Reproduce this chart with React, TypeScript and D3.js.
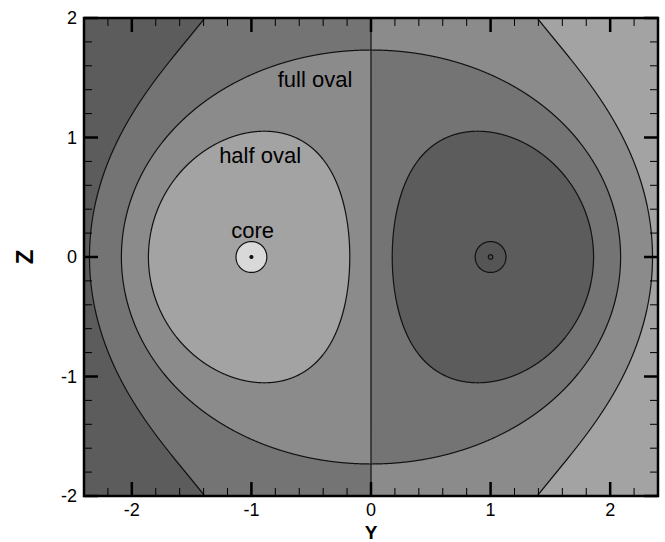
import React, { useMemo } from "react";
import * as d3 from "d3";

// Vortex pair in a uniform stream (Kelvin oval), plotted in the Y–Z plane.
const vortexY = [-1, 1];
const vortexZ = [0, 0];
const vortexSign = [1, -1];
const streamSpeed = 0.5;

// Contour levels of the stream function and the grey of each band between them
const levels = [-4.15, -2.24, -0.27, 0, 0.27, 2.24, 4.6];
const bandColors = [
  "#4e4e4e",
  "#555555",
  "#5c5c5c",
  "#747474",
  "#8b8b8b",
  "#a3a3a3",
  "#d9d9d9",
  "#111111",
];

const yTicks = [-2, -1, 0, 1, 2];
const zTicks = [-2, -1, 0, 1, 2];
const minorStep = 0.2;

const labelText = ["full oval", "half oval", "core"];
const labelY = [-0.78, -1.27, -0.99];
const labelZ = [1.42, 0.785, 0.16];
const labelAnchor = ["start", "start", "middle"];

const W = 665;
const H = 542;
const left = 84;
const right = 658;
const top = 18;
const bottom = 496;

function psi(y: number, z: number): number {
  let v = streamSpeed * y;
  for (let k = 0; k < vortexY.length; k++) {
    const dy = y - vortexY[k];
    const dz = z - vortexZ[k];
    const r2 = Math.max(dy * dy + dz * dz, 1e-12);
    // the left vortex raises the value near it, the right one lowers it
    v += -vortexSign[k] * 0.5 * Math.log(r2);
  }
  return v;
}

export default function App() {
  const x = d3.scaleLinear().domain([-2.4, 2.4]).range([left, right]);
  const y = d3.scaleLinear().domain([-2, 2]).range([bottom, top]);

  const paths = useMemo(() => {
    const step = 0.5;
    const x0 = left - 4;
    const y0 = top - 4;
    const nx = Math.ceil((right - left + 8) / step);
    const ny = Math.ceil((bottom - top + 8) / step);
    const values = new Float64Array(nx * ny);
    for (let j = 0; j < ny; j++) {
      const zz = y.invert(y0 + (j + 0.5) * step);
      for (let i = 0; i < nx; i++) {
        const yy = x.invert(x0 + (i + 0.5) * step);
        values[j * nx + i] = psi(yy, zz);
      }
    }
    const gen = d3.contours().size([nx, ny]).thresholds(levels);
    const polys = gen(values as unknown as number[]);
    const proj = d3.geoIdentity().scale(step).translate([x0, y0]);
    const path = d3.geoPath(proj as any);
    return polys.map((p) => path(p as any) || "");
  }, []);

  const minorY = d3.range(-2.4, 2.4001, minorStep).filter(
    (v) => Math.abs(v - Math.round(v)) > 1e-6
  );
  const minorZ = d3.range(-2, 2.0001, minorStep).filter(
    (v) => Math.abs(v - Math.round(v)) > 1e-6
  );

  const font = "'Liberation Sans', Arial, Helvetica, sans-serif";
  const majorLen = 14;
  const minorLen = 8;

  return (
    <svg
      width={W}
      height={H}
      style={{ position: "absolute", left: 0, top: 0, background: "#fff" }}
    >
      <defs>
        <clipPath id="plot-area">
          <rect x={left} y={top} width={right - left} height={bottom - top} />
        </clipPath>
      </defs>
      <g clipPath="url(#plot-area)">
        <rect
          x={left}
          y={top}
          width={right - left}
          height={bottom - top}
          fill={bandColors[0]}
        />
        {paths.map((d, i) => (
          <path key={"f" + i} d={d} fill={bandColors[i + 1]} stroke="none" />
        ))}
        {paths.map((d, i) => (
          <path
            key={"l" + i}
            d={d}
            fill="none"
            stroke="#111"
            strokeWidth={1.2}
            strokeLinejoin="round"
          />
        ))}
      </g>

      {labelText.map((t, i) => (
        <text
          key={"lab" + i}
          x={x(labelY[i])}
          y={y(labelZ[i])}
          textAnchor={labelAnchor[i] as any}
          fontFamily={font}
          fontSize={22}
          fill="#000"
        >
          {t}
        </text>
      ))}

      {/* ticks along the Y axis, pointing inward on top and bottom */}
      {minorY.map((v) => (
        <g key={"my" + v} stroke="#000" strokeWidth={1}>
          <line x1={x(v)} x2={x(v)} y1={bottom} y2={bottom - minorLen} />
          <line x1={x(v)} x2={x(v)} y1={top} y2={top + minorLen} />
        </g>
      ))}
      {yTicks.map((v) => (
        <g key={"My" + v} stroke="#000" strokeWidth={2.5}>
          <line x1={x(v)} x2={x(v)} y1={bottom} y2={bottom - majorLen} />
          <line x1={x(v)} x2={x(v)} y1={top} y2={top + majorLen} />
        </g>
      ))}
      {/* ticks along the Z axis, pointing inward on left and right */}
      {minorZ.map((v) => (
        <g key={"mz" + v} stroke="#000" strokeWidth={1}>
          <line x1={left} x2={left + minorLen} y1={y(v)} y2={y(v)} />
          <line x1={right} x2={right - minorLen} y1={y(v)} y2={y(v)} />
        </g>
      ))}
      {zTicks.map((v) => (
        <g key={"Mz" + v} stroke="#000" strokeWidth={2.5}>
          <line x1={left} x2={left + majorLen} y1={y(v)} y2={y(v)} />
          <line x1={right} x2={right - majorLen} y1={y(v)} y2={y(v)} />
        </g>
      ))}

      <rect
        x={left}
        y={top}
        width={right - left}
        height={bottom - top}
        fill="none"
        stroke="#000"
        strokeWidth={2.5}
      />

      {yTicks.map((v) => (
        <text
          key={"ty" + v}
          x={x(v)}
          y={516}
          textAnchor="middle"
          fontFamily={font}
          fontSize={18}
        >
          {v}
        </text>
      ))}
      {zTicks.map((v) => (
        <text
          key={"tz" + v}
          x={77}
          y={y(v)}
          dy="0.36em"
          textAnchor="end"
          fontFamily={font}
          fontSize={18}
        >
          {v}
        </text>
      ))}

      <text
        x={x(0)}
        y={539}
        textAnchor="middle"
        fontFamily={font}
        fontSize={19}
        fontWeight="bold"
      >
        Y
      </text>
      <text
        transform={`translate(33, ${y(0)}) rotate(-90)`}
        textAnchor="middle"
        fontFamily={font}
        fontSize={24}
        fontWeight="bold"
      >
        Z
      </text>
    </svg>
  );
}
